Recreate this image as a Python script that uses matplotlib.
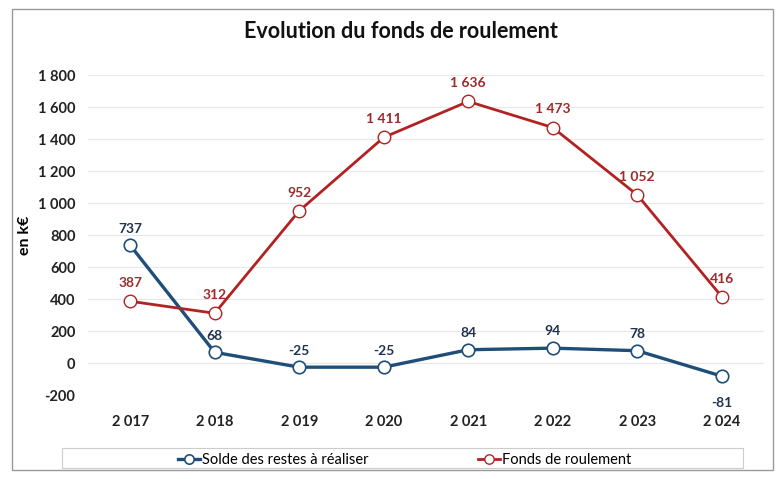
"""Evolution du fonds de roulement - line chart, two series with data labels."""
import matplotlib

matplotlib.use("Agg")
import matplotlib.pyplot as plt  # noqa: E402
from matplotlib.patches import Rectangle  # noqa: E402

plt.rcParams["font.family"] = ["Lato", "DejaVu Sans"]

YEARS = ["2 017", "2 018", "2 019", "2 020", "2 021", "2 022", "2 023", "2 024"]
SOLDE = [737, 68, -25, -25, 84, 94, 78, -81]
FONDS = [387, 312, 952, 1411, 1636, 1473, 1052, 416]
SOLDE_LABELS = ["737", "68", "-25", "-25", "84", "94", "78", "-81"]
FONDS_LABELS = ["387", "312", "952", "1 411", "1 636", "1 473", "1 052", "416"]
Y_TICKS = [-200, 0, 200, 400, 600, 800, 1000, 1200, 1400, 1600, 1800]
Y_TICK_LABELS = ["-200", "0", "200", "400", "600", "800", "1 000", "1 200",
                 "1 400", "1 600", "1 800"]

BLUE = "#1F4E79"
BLUE_TXT = "#1F3350"
RED = "#B22222"
RED_TXT = "#9E2A2B"

fig = plt.figure(figsize=(7.78, 4.79), dpi=100)
ax = fig.add_axes([0.113, 0.175, 0.869, 0.668])

x = list(range(len(YEARS)))
ax.plot(x, SOLDE, color=BLUE, linewidth=2.4, marker="o", markersize=9,
        markerfacecolor="white", markeredgecolor=BLUE, markeredgewidth=1.2,
        label="Solde des restes à réaliser", zorder=3)
ax.plot(x, FONDS, color=RED, linewidth=2.0, marker="o", markersize=9,
        markerfacecolor="white", markeredgecolor=RED, markeredgewidth=1.0,
        label="Fonds de roulement", zorder=3)

for i, (v, t) in enumerate(zip(SOLDE, SOLDE_LABELS)):
    dy = -19 if v < -50 else 12
    ax.annotate(t, (i, v), xytext=(0, dy), textcoords="offset points",
                ha="center", va="center", fontsize=10, fontweight="bold",
                color=BLUE_TXT)
for i, (v, t) in enumerate(zip(FONDS, FONDS_LABELS)):
    ax.annotate(t, (i, v), xytext=(0, 13), textcoords="offset points",
                ha="center", va="center", fontsize=10, fontweight="bold",
                color=RED_TXT)

ax.set_xlim(-0.5, len(YEARS) - 0.5)
ax.set_ylim(-200, 1800)
ax.set_xticks(x)
ax.set_xticklabels(YEARS, fontsize=10.5, fontweight="bold")
ax.set_yticks(Y_TICKS)
ax.set_yticklabels(Y_TICK_LABELS, fontsize=10.5, fontweight="bold")
ax.tick_params(axis="both", length=0, colors="#222222")
ax.tick_params(axis="y", pad=9)
ax.tick_params(axis="x", pad=14)
ax.grid(axis="y", color="#e8e8e8", linewidth=0.8)
ax.set_axisbelow(True)
for s in ax.spines.values():
    s.set_visible(False)

ax.set_ylabel("en k€", fontsize=11.5, fontweight="bold", labelpad=4)

fig.text(0.515, 0.935, "Evolution du fonds de roulement", ha="center",
         va="center", fontsize=15.5, fontweight="bold", color="#111111")

fig.legend(loc="center", bbox_to_anchor=(0.52, 0.04), ncol=2, frameon=False,
           fontsize=10.5, columnspacing=7.5, handlelength=1.5,
           handletextpad=0.15, markerscale=0.75)

# legend box and outer chart border
fig.patches.append(Rectangle((0.08, 0.022), 0.875, 0.042,
                             transform=fig.transFigure, fill=False,
                             edgecolor="#cccccc", linewidth=0.8))
fig.patches.append(Rectangle((0.016, 0.018), 0.978, 0.964,
                             transform=fig.transFigure, fill=False,
                             edgecolor="#999999", linewidth=1.0))

fig.savefig("out.png", dpi=100)
